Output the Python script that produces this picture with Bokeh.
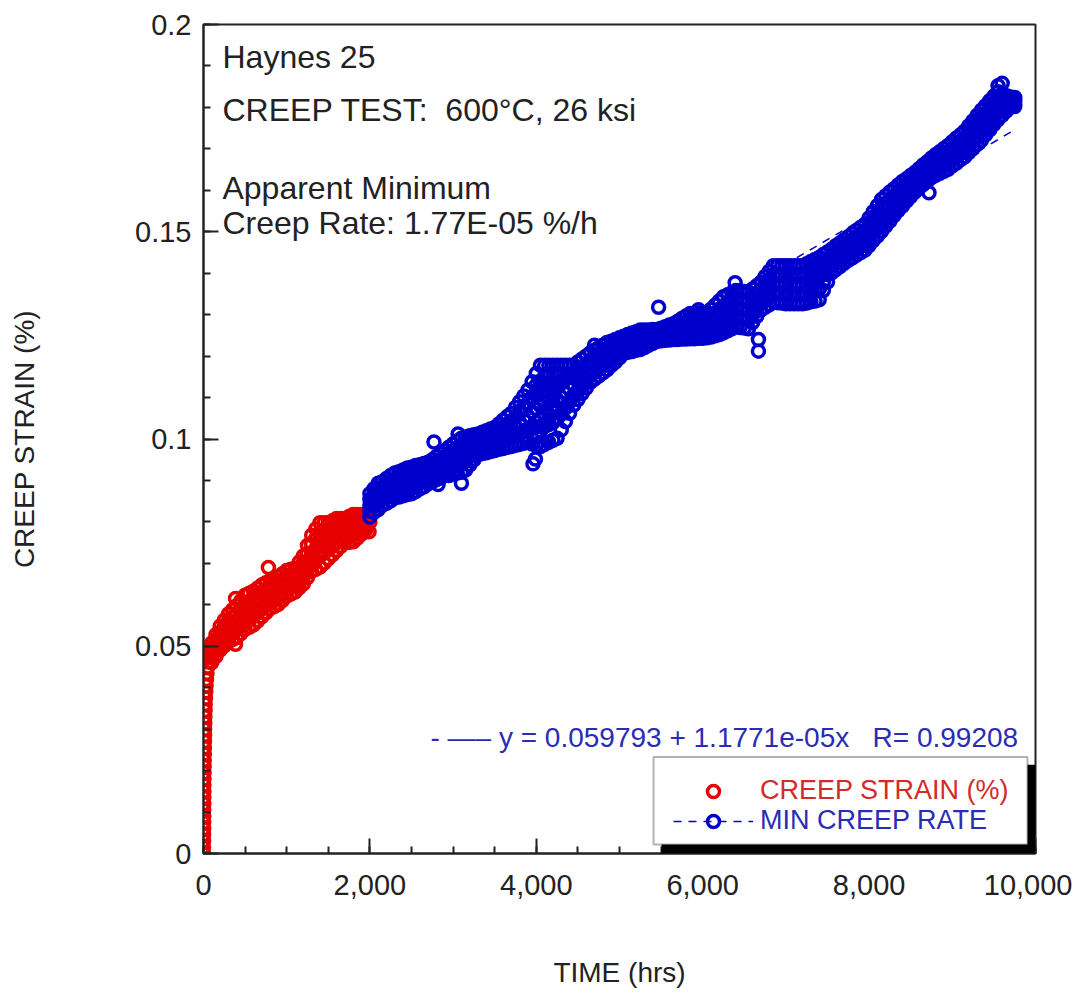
from bokeh.plotting import figure
from bokeh.models import (ColumnDataSource, Range1d, SingleIntervalTicker, NumeralTickFormatter,
                          CustomJSTickFormatter, Label, BoxAnnotation, Legend, LegendItem)
from bokeh.embed import file_html
from bokeh.resources import INLINE

# ---------------- data ----------------
# primary creep: nearly vertical rise at the start of the test
red_early_time = [0, 0, 1, 1, 2, 2, 3, 3, 4, 4, 5, 6, 6, 7, 8, 9, 10, 11, 12, 13,
                  14, 16, 17, 19, 21, 24, 27, 31, 36, 42, 50, 60, 72, 85]
red_early_strain = [0.0000, 0.0015, 0.0030, 0.0045, 0.0060, 0.0075, 0.0090, 0.0105, 0.0120, 0.0135,
                    0.0150, 0.0165, 0.0180, 0.0195, 0.0210, 0.0225, 0.0240, 0.0255, 0.0270, 0.0285,
                    0.0300, 0.0315, 0.0330, 0.0345, 0.0360, 0.0375, 0.0390, 0.0405, 0.0420, 0.0435,
                    0.0450, 0.0462, 0.0472, 0.0480]

# five strain readings per time step across the scatter band
red_time = [100, 150, 200, 250, 300, 350, 400, 450, 500, 550,
            600, 650, 700, 750, 800, 850, 900, 950, 1000, 1050,
            1100, 1150, 1200, 1250, 1300, 1350, 1400, 1450, 1500, 1550,
            1600, 1650, 1700, 1750, 1800, 1850, 1900, 1950]
red_strain_1 = [0.0461, 0.0476, 0.0491, 0.0501, 0.0511, 0.0516, 0.0521, 0.0531, 0.0541, 0.0546,
                0.0551, 0.0561, 0.0571, 0.0581, 0.0591, 0.0596, 0.0601, 0.0611, 0.0621, 0.0626,
                0.0631, 0.0641, 0.0651, 0.0666, 0.0681, 0.0686, 0.0691, 0.0701, 0.0711, 0.0721,
                0.0731, 0.0741, 0.0751, 0.0751, 0.0752, 0.0761, 0.0771, 0.0781]
red_strain_2 = [0.0473, 0.0490, 0.0505, 0.0517, 0.0528, 0.0534, 0.0540, 0.0551, 0.0562, 0.0567,
                0.0572, 0.0581, 0.0590, 0.0600, 0.0608, 0.0613, 0.0618, 0.0627, 0.0636, 0.0641,
                0.0645, 0.0656, 0.0668, 0.0685, 0.0703, 0.0710, 0.0718, 0.0725, 0.0733, 0.0741,
                0.0750, 0.0758, 0.0765, 0.0766, 0.0768, 0.0775, 0.0783, 0.0790]
red_strain_3 = [0.0486, 0.0503, 0.0520, 0.0532, 0.0545, 0.0552, 0.0560, 0.0571, 0.0582, 0.0588,
                0.0593, 0.0601, 0.0610, 0.0618, 0.0625, 0.0630, 0.0635, 0.0644, 0.0652, 0.0657,
                0.0660, 0.0672, 0.0685, 0.0705, 0.0725, 0.0735, 0.0745, 0.0750, 0.0755, 0.0762,
                0.0770, 0.0775, 0.0780, 0.0782, 0.0785, 0.0790, 0.0795, 0.0800]
red_strain_4 = [0.0497, 0.0515, 0.0534, 0.0547, 0.0561, 0.0570, 0.0579, 0.0590, 0.0602, 0.0608,
                0.0613, 0.0620, 0.0629, 0.0635, 0.0641, 0.0646, 0.0651, 0.0659, 0.0667, 0.0671,
                0.0674, 0.0687, 0.0701, 0.0724, 0.0746, 0.0759, 0.0771, 0.0774, 0.0776, 0.0782,
                0.0789, 0.0791, 0.0794, 0.0797, 0.0801, 0.0804, 0.0806, 0.0809]
red_strain_5 = [0.0508, 0.0528, 0.0548, 0.0563, 0.0578, 0.0588, 0.0598, 0.0610, 0.0623, 0.0628,
                0.0633, 0.0640, 0.0648, 0.0653, 0.0658, 0.0663, 0.0668, 0.0675, 0.0683, 0.0686,
                0.0688, 0.0703, 0.0718, 0.0743, 0.0768, 0.0783, 0.0798, 0.0798, 0.0798, 0.0803,
                0.0808, 0.0808, 0.0808, 0.0813, 0.0818, 0.0818, 0.0818, 0.0818]
red_extra_time = [385, 385, 780, 1300, 1350, 1400, 1450, 1500, 1550, 1600, 1650, 1750, 1990, 2000]
red_extra_strain = [0.0615, 0.0505, 0.0690, 0.0700, 0.0760, 0.0720, 0.0775, 0.0735, 0.0785, 0.0790,
                    0.0792, 0.0752, 0.0776, 0.0800]

blue_time = [2000, 2050, 2100, 2150, 2200, 2250, 2300, 2350, 2400, 2450,
             2500, 2550, 2600, 2650, 2700, 2750, 2800, 2850, 2900, 2950,
             3000, 3050, 3100, 3150, 3200, 3250, 3300, 3350, 3400, 3450,
             3500, 3550, 3600, 3650, 3700, 3750, 3800, 3850, 3900, 3950,
             4000, 4050, 4100, 4150, 4200, 4250, 4300, 4350, 4400, 4450,
             4500, 4550, 4600, 4650, 4700, 4750, 4800, 4850, 4900, 4950,
             5000, 5050, 5100, 5150, 5200, 5250, 5300, 5350, 5400, 5450,
             5500, 5550, 5600, 5650, 5700, 5750, 5800, 5850, 5900, 5950,
             6000, 6050, 6100, 6150, 6200, 6250, 6300, 6350, 6400, 6450,
             6500, 6550, 6600, 6650, 6700, 6750, 6800, 6850, 6900, 6950,
             7000, 7050, 7100, 7150, 7200, 7250, 7300, 7350, 7400, 7450,
             7500, 7550, 7600, 7650, 7700, 7750, 7800, 7850, 7900, 7950,
             8000, 8050, 8100, 8150, 8200, 8250, 8300, 8350, 8400, 8450,
             8500, 8550, 8600, 8650, 8700, 8750, 8800, 8850, 8900, 8950,
             9000, 9050, 9100, 9150, 9200, 9250, 9300, 9350, 9400, 9450,
             9500, 9550, 9600, 9650, 9700, 9750]
blue_strain_1 = [0.0812, 0.0823, 0.0830, 0.0840, 0.0845, 0.0851, 0.0858, 0.0860, 0.0863, 0.0866,
                 0.0868, 0.0873, 0.0880, 0.0885, 0.0892, 0.0897, 0.0902, 0.0906, 0.0912, 0.0912,
                 0.0915, 0.0918, 0.0920, 0.0925, 0.0938, 0.0950, 0.0962, 0.0965, 0.0967, 0.0970,
                 0.0972, 0.0975, 0.0977, 0.0980, 0.0982, 0.0985, 0.0987, 0.0990, 0.0992, 0.0988,
                 0.0985, 0.0982, 0.0987, 0.0992, 0.0997, 0.1002, 0.1022, 0.1042, 0.1062, 0.1082,
                 0.1095, 0.1110, 0.1123, 0.1137, 0.1145, 0.1152, 0.1160, 0.1167, 0.1177, 0.1186,
                 0.1196, 0.1206, 0.1209, 0.1211, 0.1214, 0.1216, 0.1221, 0.1226, 0.1231, 0.1236,
                 0.1237, 0.1238, 0.1239, 0.1240, 0.1240, 0.1241, 0.1241, 0.1242, 0.1242, 0.1243,
                 0.1243, 0.1244, 0.1246, 0.1249, 0.1252, 0.1256, 0.1261, 0.1266, 0.1271, 0.1269,
                 0.1268, 0.1266, 0.1281, 0.1296, 0.1311, 0.1318, 0.1324, 0.1331, 0.1329, 0.1328,
                 0.1326, 0.1326, 0.1326, 0.1326, 0.1326, 0.1328, 0.1331, 0.1333, 0.1336, 0.1358,
                 0.1379, 0.1401, 0.1409, 0.1416, 0.1424, 0.1431, 0.1437, 0.1444, 0.1450, 0.1456,
                 0.1467, 0.1479, 0.1490, 0.1501, 0.1514, 0.1526, 0.1539, 0.1551, 0.1562, 0.1574,
                 0.1585, 0.1596, 0.1605, 0.1614, 0.1622, 0.1631, 0.1636, 0.1641, 0.1646, 0.1651,
                 0.1659, 0.1666, 0.1674, 0.1681, 0.1691, 0.1701, 0.1711, 0.1721, 0.1734, 0.1746,
                 0.1759, 0.1771, 0.1781, 0.1791, 0.1801, 0.1802]
blue_strain_2 = [0.0826, 0.0837, 0.0848, 0.0855, 0.0860, 0.0867, 0.0872, 0.0876, 0.0879, 0.0882,
                 0.0884, 0.0889, 0.0895, 0.0899, 0.0905, 0.0911, 0.0916, 0.0921, 0.0927, 0.0931,
                 0.0935, 0.0938, 0.0941, 0.0947, 0.0957, 0.0966, 0.0975, 0.0979, 0.0981, 0.0984,
                 0.0987, 0.0991, 0.0995, 0.0999, 0.1003, 0.1008, 0.1014, 0.1019, 0.1024, 0.1027,
                 0.1029, 0.1031, 0.1036, 0.1041, 0.1045, 0.1049, 0.1061, 0.1076, 0.1091, 0.1106,
                 0.1117, 0.1130, 0.1141, 0.1153, 0.1161, 0.1168, 0.1176, 0.1182, 0.1191, 0.1199,
                 0.1207, 0.1216, 0.1219, 0.1222, 0.1225, 0.1228, 0.1231, 0.1235, 0.1239, 0.1243,
                 0.1244, 0.1246, 0.1248, 0.1250, 0.1251, 0.1253, 0.1255, 0.1257, 0.1258, 0.1259,
                 0.1259, 0.1260, 0.1263, 0.1267, 0.1272, 0.1278, 0.1283, 0.1288, 0.1293, 0.1291,
                 0.1290, 0.1288, 0.1300, 0.1314, 0.1328, 0.1336, 0.1344, 0.1353, 0.1351, 0.1350,
                 0.1349, 0.1349, 0.1348, 0.1348, 0.1348, 0.1351, 0.1355, 0.1359, 0.1363, 0.1379,
                 0.1397, 0.1415, 0.1423, 0.1430, 0.1438, 0.1445, 0.1452, 0.1459, 0.1465, 0.1472,
                 0.1483, 0.1497, 0.1509, 0.1520, 0.1532, 0.1544, 0.1555, 0.1567, 0.1577, 0.1588,
                 0.1598, 0.1608, 0.1617, 0.1626, 0.1634, 0.1643, 0.1648, 0.1654, 0.1659, 0.1665,
                 0.1673, 0.1681, 0.1689, 0.1696, 0.1707, 0.1718, 0.1728, 0.1739, 0.1751, 0.1763,
                 0.1776, 0.1788, 0.1794, 0.1800, 0.1807, 0.1808]
blue_strain_3 = [0.0840, 0.0851, 0.0866, 0.0870, 0.0875, 0.0884, 0.0886, 0.0892, 0.0895, 0.0897,
                 0.0900, 0.0905, 0.0910, 0.0912, 0.0918, 0.0925, 0.0930, 0.0935, 0.0942, 0.0950,
                 0.0955, 0.0958, 0.0962, 0.0968, 0.0975, 0.0982, 0.0988, 0.0992, 0.0995, 0.0998,
                 0.1002, 0.1006, 0.1012, 0.1018, 0.1024, 0.1030, 0.1040, 0.1048, 0.1055, 0.1065,
                 0.1072, 0.1080, 0.1085, 0.1090, 0.1092, 0.1095, 0.1100, 0.1110, 0.1120, 0.1130,
                 0.1140, 0.1150, 0.1160, 0.1170, 0.1178, 0.1185, 0.1192, 0.1198, 0.1205, 0.1212,
                 0.1218, 0.1226, 0.1230, 0.1233, 0.1236, 0.1240, 0.1242, 0.1245, 0.1248, 0.1250,
                 0.1252, 0.1255, 0.1257, 0.1260, 0.1262, 0.1266, 0.1270, 0.1273, 0.1274, 0.1275,
                 0.1276, 0.1277, 0.1280, 0.1286, 0.1293, 0.1300, 0.1305, 0.1310, 0.1315, 0.1313,
                 0.1312, 0.1310, 0.1320, 0.1333, 0.1345, 0.1355, 0.1365, 0.1375, 0.1374, 0.1373,
                 0.1372, 0.1372, 0.1371, 0.1370, 0.1370, 0.1375, 0.1380, 0.1385, 0.1390, 0.1400,
                 0.1415, 0.1430, 0.1437, 0.1445, 0.1452, 0.1460, 0.1467, 0.1474, 0.1481, 0.1488,
                 0.1500, 0.1515, 0.1528, 0.1540, 0.1551, 0.1562, 0.1572, 0.1583, 0.1592, 0.1602,
                 0.1611, 0.1620, 0.1630, 0.1638, 0.1646, 0.1655, 0.1661, 0.1667, 0.1673, 0.1680,
                 0.1688, 0.1696, 0.1704, 0.1712, 0.1723, 0.1735, 0.1746, 0.1757, 0.1769, 0.1781,
                 0.1793, 0.1805, 0.1808, 0.1810, 0.1813, 0.1815]
blue_strain_4 = [0.0854, 0.0866, 0.0880, 0.0884, 0.0890, 0.0898, 0.0902, 0.0907, 0.0910, 0.0914,
                 0.0916, 0.0921, 0.0924, 0.0927, 0.0931, 0.0938, 0.0944, 0.0950, 0.0957, 0.0965,
                 0.0972, 0.0977, 0.0982, 0.0987, 0.0992, 0.0996, 0.1000, 0.1004, 0.1008, 0.1011,
                 0.1015, 0.1021, 0.1029, 0.1036, 0.1043, 0.1053, 0.1065, 0.1076, 0.1087, 0.1102,
                 0.1115, 0.1129, 0.1132, 0.1134, 0.1135, 0.1137, 0.1139, 0.1144, 0.1149, 0.1154,
                 0.1163, 0.1171, 0.1180, 0.1189, 0.1196, 0.1202, 0.1209, 0.1215, 0.1220, 0.1226,
                 0.1231, 0.1237, 0.1241, 0.1244, 0.1247, 0.1251, 0.1252, 0.1254, 0.1256, 0.1257,
                 0.1259, 0.1263, 0.1266, 0.1269, 0.1273, 0.1278, 0.1283, 0.1288, 0.1288, 0.1289,
                 0.1290, 0.1290, 0.1296, 0.1304, 0.1313, 0.1321, 0.1326, 0.1331, 0.1336, 0.1335,
                 0.1334, 0.1332, 0.1341, 0.1351, 0.1361, 0.1373, 0.1385, 0.1396, 0.1396, 0.1395,
                 0.1395, 0.1395, 0.1395, 0.1394, 0.1394, 0.1399, 0.1404, 0.1409, 0.1414, 0.1422,
                 0.1433, 0.1444, 0.1451, 0.1459, 0.1466, 0.1474, 0.1481, 0.1488, 0.1496, 0.1503,
                 0.1516, 0.1531, 0.1545, 0.1559, 0.1569, 0.1579, 0.1588, 0.1598, 0.1606, 0.1615,
                 0.1623, 0.1631, 0.1641, 0.1649, 0.1657, 0.1666, 0.1673, 0.1680, 0.1687, 0.1694,
                 0.1702, 0.1711, 0.1719, 0.1727, 0.1739, 0.1751, 0.1763, 0.1775, 0.1786, 0.1798,
                 0.1810, 0.1821, 0.1820, 0.1819, 0.1819, 0.1819]
blue_strain_5 = [0.0868, 0.0880, 0.0893, 0.0897, 0.0905, 0.0912, 0.0918, 0.0921, 0.0925, 0.0930,
                 0.0932, 0.0936, 0.0938, 0.0941, 0.0944, 0.0950, 0.0958, 0.0965, 0.0972, 0.0980,
                 0.0988, 0.0995, 0.1002, 0.1005, 0.1008, 0.1010, 0.1012, 0.1016, 0.1020, 0.1024,
                 0.1028, 0.1036, 0.1045, 0.1054, 0.1062, 0.1076, 0.1090, 0.1104, 0.1118, 0.1138,
                 0.1158, 0.1178, 0.1178, 0.1178, 0.1178, 0.1178, 0.1178, 0.1178, 0.1178, 0.1178,
                 0.1186, 0.1193, 0.1200, 0.1208, 0.1214, 0.1220, 0.1226, 0.1233, 0.1236, 0.1240,
                 0.1244, 0.1248, 0.1252, 0.1256, 0.1259, 0.1263, 0.1263, 0.1263, 0.1264, 0.1264,
                 0.1267, 0.1271, 0.1275, 0.1278, 0.1284, 0.1291, 0.1297, 0.1303, 0.1303, 0.1304,
                 0.1304, 0.1304, 0.1313, 0.1323, 0.1333, 0.1343, 0.1348, 0.1353, 0.1358, 0.1357,
                 0.1356, 0.1354, 0.1362, 0.1370, 0.1378, 0.1392, 0.1405, 0.1418, 0.1418, 0.1418,
                 0.1418, 0.1418, 0.1418, 0.1418, 0.1418, 0.1423, 0.1428, 0.1433, 0.1438, 0.1445,
                 0.1451, 0.1458, 0.1466, 0.1473, 0.1481, 0.1488, 0.1496, 0.1503, 0.1511, 0.1518,
                 0.1533, 0.1548, 0.1563, 0.1578, 0.1587, 0.1596, 0.1604, 0.1613, 0.1621, 0.1628,
                 0.1636, 0.1643, 0.1652, 0.1661, 0.1669, 0.1678, 0.1686, 0.1693, 0.1701, 0.1708,
                 0.1717, 0.1726, 0.1734, 0.1743, 0.1756, 0.1768, 0.1781, 0.1793, 0.1804, 0.1816,
                 0.1827, 0.1838, 0.1833, 0.1828, 0.1825, 0.1824]
blue_extra_time = [3850, 3850, 3900, 3900, 3950, 3950, 4000, 4000, 4000, 4000,
                   4050, 4050, 4050, 4050, 4100, 4100, 4100, 4100, 4150, 4150,
                   4150, 4150, 4200, 4200, 4200, 4200, 4250, 4250, 4250, 4250,
                   4300, 4300, 4350, 4350, 4400, 4400, 4450, 4450,
                   6800, 6800, 6900, 6900, 7000, 7000, 7100, 7100, 7200, 7200,
                   7300, 7300, 7400, 7400,
                   2770, 2820, 3060, 3100, 3960, 3990, 4700, 5470, 5950, 6390,
                   6670, 6670, 8720, 9550, 9600]
blue_extra_strain = [0.1020, 0.1075, 0.1020, 0.1085, 0.1030, 0.1100, 0.1015, 0.1040, 0.1110, 0.1130,
                     0.1020, 0.1050, 0.1110, 0.1140, 0.1030, 0.1060, 0.1120, 0.1150, 0.1035, 0.1060,
                     0.1125, 0.1150, 0.1040, 0.1065, 0.1125, 0.1150, 0.1050, 0.1070, 0.1130, 0.1155,
                     0.1060, 0.1140, 0.1075, 0.1145, 0.1090, 0.1150, 0.1105, 0.1155,
                     0.1345, 0.1385, 0.1352, 0.1396, 0.1350, 0.1395, 0.1349, 0.1395, 0.1348, 0.1394,
                     0.1355, 0.1404, 0.1362, 0.1414,
                     0.0993, 0.0890, 0.1012, 0.0893, 0.0940, 0.0952, 0.1226, 0.1318, 0.1312, 0.1377,
                     0.1240, 0.1212, 0.1594, 0.1852, 0.1858]

# least-squares line y = 0.059793 + 1.1771e-05 x, end points
fit_time = [2000, 9750]
fit_strain = [0.0833, 0.1746]

x_ticks_interval = 2000
y_ticks_interval = 0.05

FONT = "Liberation Sans"
RED = "#E60000"
BLUE = "#0000CC"
NB = "\u00a0"

red_src = ColumnDataSource(dict(
    t=red_early_time + red_time * 5 + red_extra_time,
    s=(red_early_strain + red_strain_1 + red_strain_2 + red_strain_3 + red_strain_4
       + red_strain_5 + red_extra_strain)))
blue_src = ColumnDataSource(dict(
    t=blue_time * 5 + blue_extra_time,
    s=(blue_strain_1 + blue_strain_2 + blue_strain_3 + blue_strain_4 + blue_strain_5
       + blue_extra_strain)))
fit_src = ColumnDataSource(dict(t=fit_time, s=fit_strain))

p = figure(width=1072, height=990, x_range=Range1d(0, 10000), y_range=Range1d(0, 0.2),
           output_backend="svg", toolbar_location=None,
           min_border_left=203, min_border_right=37, min_border_top=24, min_border_bottom=134)
p.grid.visible = False
p.outline_line_color = "#222222"
p.outline_line_width = 2
p.background_fill_color = "white"
p.border_fill_color = "white"

xa = p.xaxis[0]
xa.ticker = SingleIntervalTicker(interval=x_ticks_interval, num_minor_ticks=4)
xa.formatter = NumeralTickFormatter(format="0,0")
ya = p.yaxis[0]
ya.ticker = SingleIntervalTicker(interval=y_ticks_interval, num_minor_ticks=5)
ya.formatter = CustomJSTickFormatter(code="return tick.toFixed(2).replace(/\\.?0+$/, '');")

for ax in (xa, ya):
    ax.axis_line_color = "#222222"
    ax.axis_line_width = 2
    ax.major_tick_in = 15
    ax.major_tick_out = 0
    ax.minor_tick_in = 7
    ax.minor_tick_out = 0
    ax.major_tick_line_width = 2
    ax.minor_tick_line_width = 2
    ax.major_tick_line_color = "#222222"
    ax.minor_tick_line_color = "#222222"
    ax.major_label_text_font = FONT
    ax.major_label_text_font_size = "29px"
    ax.major_label_text_color = "#222222"
    ax.axis_label_text_font = FONT
    ax.axis_label_text_font_size = "28px"
    ax.axis_label_text_font_style = "normal"
    ax.axis_label_text_color = "#222222"

xa.axis_label = "TIME (hrs)"
xa.major_label_standoff = 21
xa.axis_label_standoff = 59
ya.axis_label = "CREEP STRAIN (%)"
ya.major_label_standoff = 12
ya.axis_label_standoff = 92

fit_r = p.line("t", "s", source=fit_src, line_color=BLUE, line_width=1.5, line_dash="8 7")
red_r = p.scatter("t", "s", source=red_src, marker="circle", size=12,
                  line_color=RED, line_width=3.5, fill_alpha=0)
blue_r = p.scatter("t", "s", source=blue_src, marker="circle", size=12,
                   line_color=BLUE, line_width=3.5, fill_alpha=0)

# text annotations
for txt, yy in [("Haynes 25", 0.1921), ("CREEP TEST:" + NB + NB + "600°C, 26 ksi", 0.1793),
                ("Apparent Minimum", 0.1606), ("Creep Rate: 1.77E-05 %/h", 0.1522)]:
    p.add_layout(Label(x=228, y=yy, text=txt, text_font=FONT, text_font_size="32px",
                       text_color="#222222", text_baseline="alphabetic"))

fit_text = ("-" + NB + "\u2014\u2013" + NB + "y = 0.059793 + 1.1771e-05x"
            + NB * 3 + "R= 0.99208")
p.add_layout(Label(x=2728, y=0.0279, text=fit_text,
                   text_font=FONT, text_font_size="28px", text_color="#2B2BB5",
                   text_baseline="alphabetic"))

# legend frame with drop shadow
p.add_layout(BoxAnnotation(left=5505, right=10000, bottom=0.0, top=0.0214,
                           fill_color="black", fill_alpha=1, line_alpha=0))
p.add_layout(BoxAnnotation(left=5409, right=9904, bottom=0.0022, top=0.0233,
                           fill_color="white", fill_alpha=1, line_color="black", line_width=2))

def make_legend(label, renderers, color, loc):
    lg = Legend(items=[LegendItem(label=label, renderers=renderers)], location=loc,
                glyph_width=80, glyph_height=30, label_standoff=7, padding=0, margin=0,
                spacing=0, border_line_alpha=0, background_fill_alpha=0,
                label_text_font=FONT, label_text_font_size="27px", label_text_color=color)
    return lg

p.add_layout(make_legend("CREEP STRAIN (%)", [red_r], "#D42A2A", (470, 47)))
p.add_layout(make_legend("MIN CREEP RATE", [fit_r, blue_r], "#2B2BB5", (470, 17)))

open("out.html", "w").write(file_html(p, INLINE))
